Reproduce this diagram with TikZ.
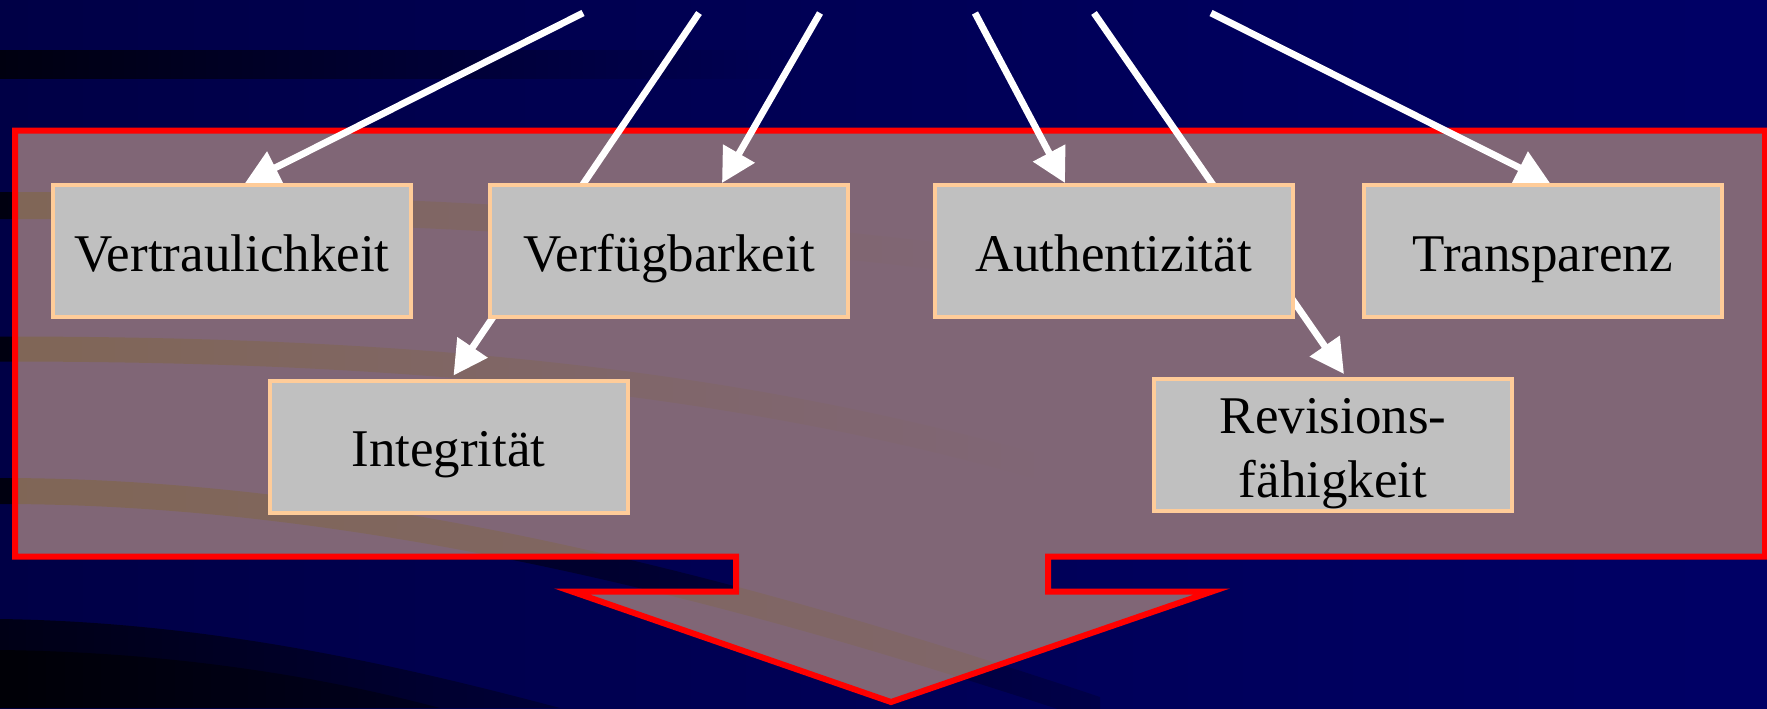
\documentclass[tikz,border=0pt]{standalone}
\usepackage{fontspec}
\setmainfont{Liberation Serif}
\usetikzlibrary{arrows.meta}

\pgfdeclarelayer{backdrop}
\pgfdeclarelayer{links}
\pgfsetlayers{backdrop,links,main}

\definecolor{navyL}{RGB}{0,0,70}
\definecolor{navyR}{RGB}{0,0,102}
\definecolor{bandK}{RGB}{0,0,16}
\definecolor{bandM}{RGB}{0,0,40}
\definecolor{bandE}{RGB}{0,0,80}
\definecolor{mauve}{RGB}{128,102,118}
\definecolor{bandtan}{RGB}{128,102,86}
\definecolor{peach}{RGB}{255,204,153}
\definecolor{boxgray}{RGB}{192,192,192}

% outline of the frame with its downward arrow
\newcommand\framepath{(15,130.5) -- (1765,130.5) -- (1765,556.5) -- (1048,556.5)
  -- (1048,591.5) -- (1212,591.5) -- (891,702) -- (572,591.5) -- (736,591.5)
  -- (736,556.5) -- (15,556.5) -- cycle}
% curved ribbons of the backdrop
\newcommand\ribbonB{(0,192) .. controls (330,192) and (660,207) .. (990,249)
  -- (990,276) .. controls (660,234) and (330,219) .. (0,219) -- cycle}
\newcommand\ribbonC{(0,336.5) .. controls (350,336.5) and (700,357.5) .. (1050,457.5)
  -- (1050,482.5) .. controls (700,382.5) and (350,361.5) .. (0,361.5) -- cycle}
\newcommand\ribbonD{(0,478) .. controls (400,478) and (800,597) .. (1100,697)
  -- (1100,723) .. controls (800,623) and (400,504) .. (0,504) -- cycle}

\tikzset{
  sbox/.style={draw=peach, fill=boxgray, line width=2pt,
    minimum width=179pt, minimum height=66pt, inner sep=0pt,
    font=\fontsize{26.5}{32}\selectfont, text height=20pt, text depth=0pt},
  lbl/.style={inner sep=0pt, font=\fontsize{26.5}{32}\selectfont},
  arr/.style={draw=white, line width=3.4pt,
    -{Triangle[length=17pt,width=17.5pt]}},
}

\begin{document}
\begin{tikzpicture}[x=0.5pt, y=-0.5pt, line join=miter]
\useasboundingbox (0,0) rectangle (1767,708);

% quality boxes
\node[sbox] (vert)  at (232,251)    {Vertraulichkeit};
\node[sbox] (verf)  at (669,251)    {Verfügbarkeit};
\node[sbox] (auth)  at (1113.5,251) {Authentizität};
\node[sbox] (trans) at (1542.5,251) {Transparenz};
\node[sbox] (integ) at (448.5,446.5) {Integrität};
\node[sbox] (rev)   at (1333,445)   {};
\node[lbl, anchor=base] (revA) at ([yshift=6pt]rev.center) {Revisions-};
\node[lbl, anchor=base] (revB) at ([yshift=-26pt]rev.center) {fähigkeit};

% free ends of the incoming arrows
\coordinate (s1) at (583,13);
\coordinate (s2) at (699,13);
\coordinate (s3) at (820,13);
\coordinate (s4) at (975,13);
\coordinate (s5) at (1094,13);
\coordinate (s6) at (1211,13);

\begin{pgfonlayer}{links}
  \draw[arr] (s1) -- ([xshift=6.5pt]vert.north);
  \draw[arr] (s2) -- ([xshift=2.5pt,yshift=1.5pt]integ.north);
  \draw[arr] (s3) -- ([xshift=26.5pt]verf.north);
  \draw[arr] (s4) -- ([xshift=-24.25pt]auth.north);
  \draw[arr] (s5) -- ([xshift=5.5pt,yshift=1.5pt]rev.north);
  \draw[arr] (s6) -- ([xshift=3.75pt]trans.north);
\end{pgfonlayer}

\begin{pgfonlayer}{backdrop}
  % navy backdrop
  \shade[left color=navyL, right color=navyR] (0,0) rectangle (1767,708);
  % dark ribbons
  \shade[left color=bandK, middle color=bandM, right color={rgb,255:red,0;green,0;blue,84}]
    (0,50) rectangle (800,78);
  \shade[left color=bandK, right color=bandE] \ribbonB;
  \shade[left color=bandK, right color=bandE] \ribbonC;
  \shade[left color=bandK, middle color={rgb,255:red,0;green,0;blue,32},
    right color={rgb,255:red,0;green,0;blue,72}] \ribbonD;
  % dark sweeps in the lower left corner
  \shade[left color={rgb,255:red,0;green,0;blue,22}, right color={rgb,255:red,0;green,0;blue,55}]
    (0,619) .. controls (200,622) and (380,660) .. (560,708) -- (0,708) -- cycle;
  \shade[left color={rgb,255:red,0;green,0;blue,6}, right color={rgb,255:red,0;green,0;blue,30}]
    (0,650) .. controls (170,652) and (320,676) .. (440,708) -- (0,708) -- cycle;
  % frame body
  \fill[mauve] \framepath;
  \begin{scope}
    \clip \framepath;
    \shade[left color=bandtan, middle color=bandtan!70!mauve, right color=mauve] \ribbonB;
    \shade[left color=bandtan, middle color=bandtan!85!mauve, right color=mauve] \ribbonC;
    \shade[left color=bandtan, middle color=bandtan!80!mauve, right color=bandtan!35!mauve] \ribbonD;
  \end{scope}
  \draw[red, line width=3pt] \framepath;
\end{pgfonlayer}
\end{tikzpicture}
\end{document}
